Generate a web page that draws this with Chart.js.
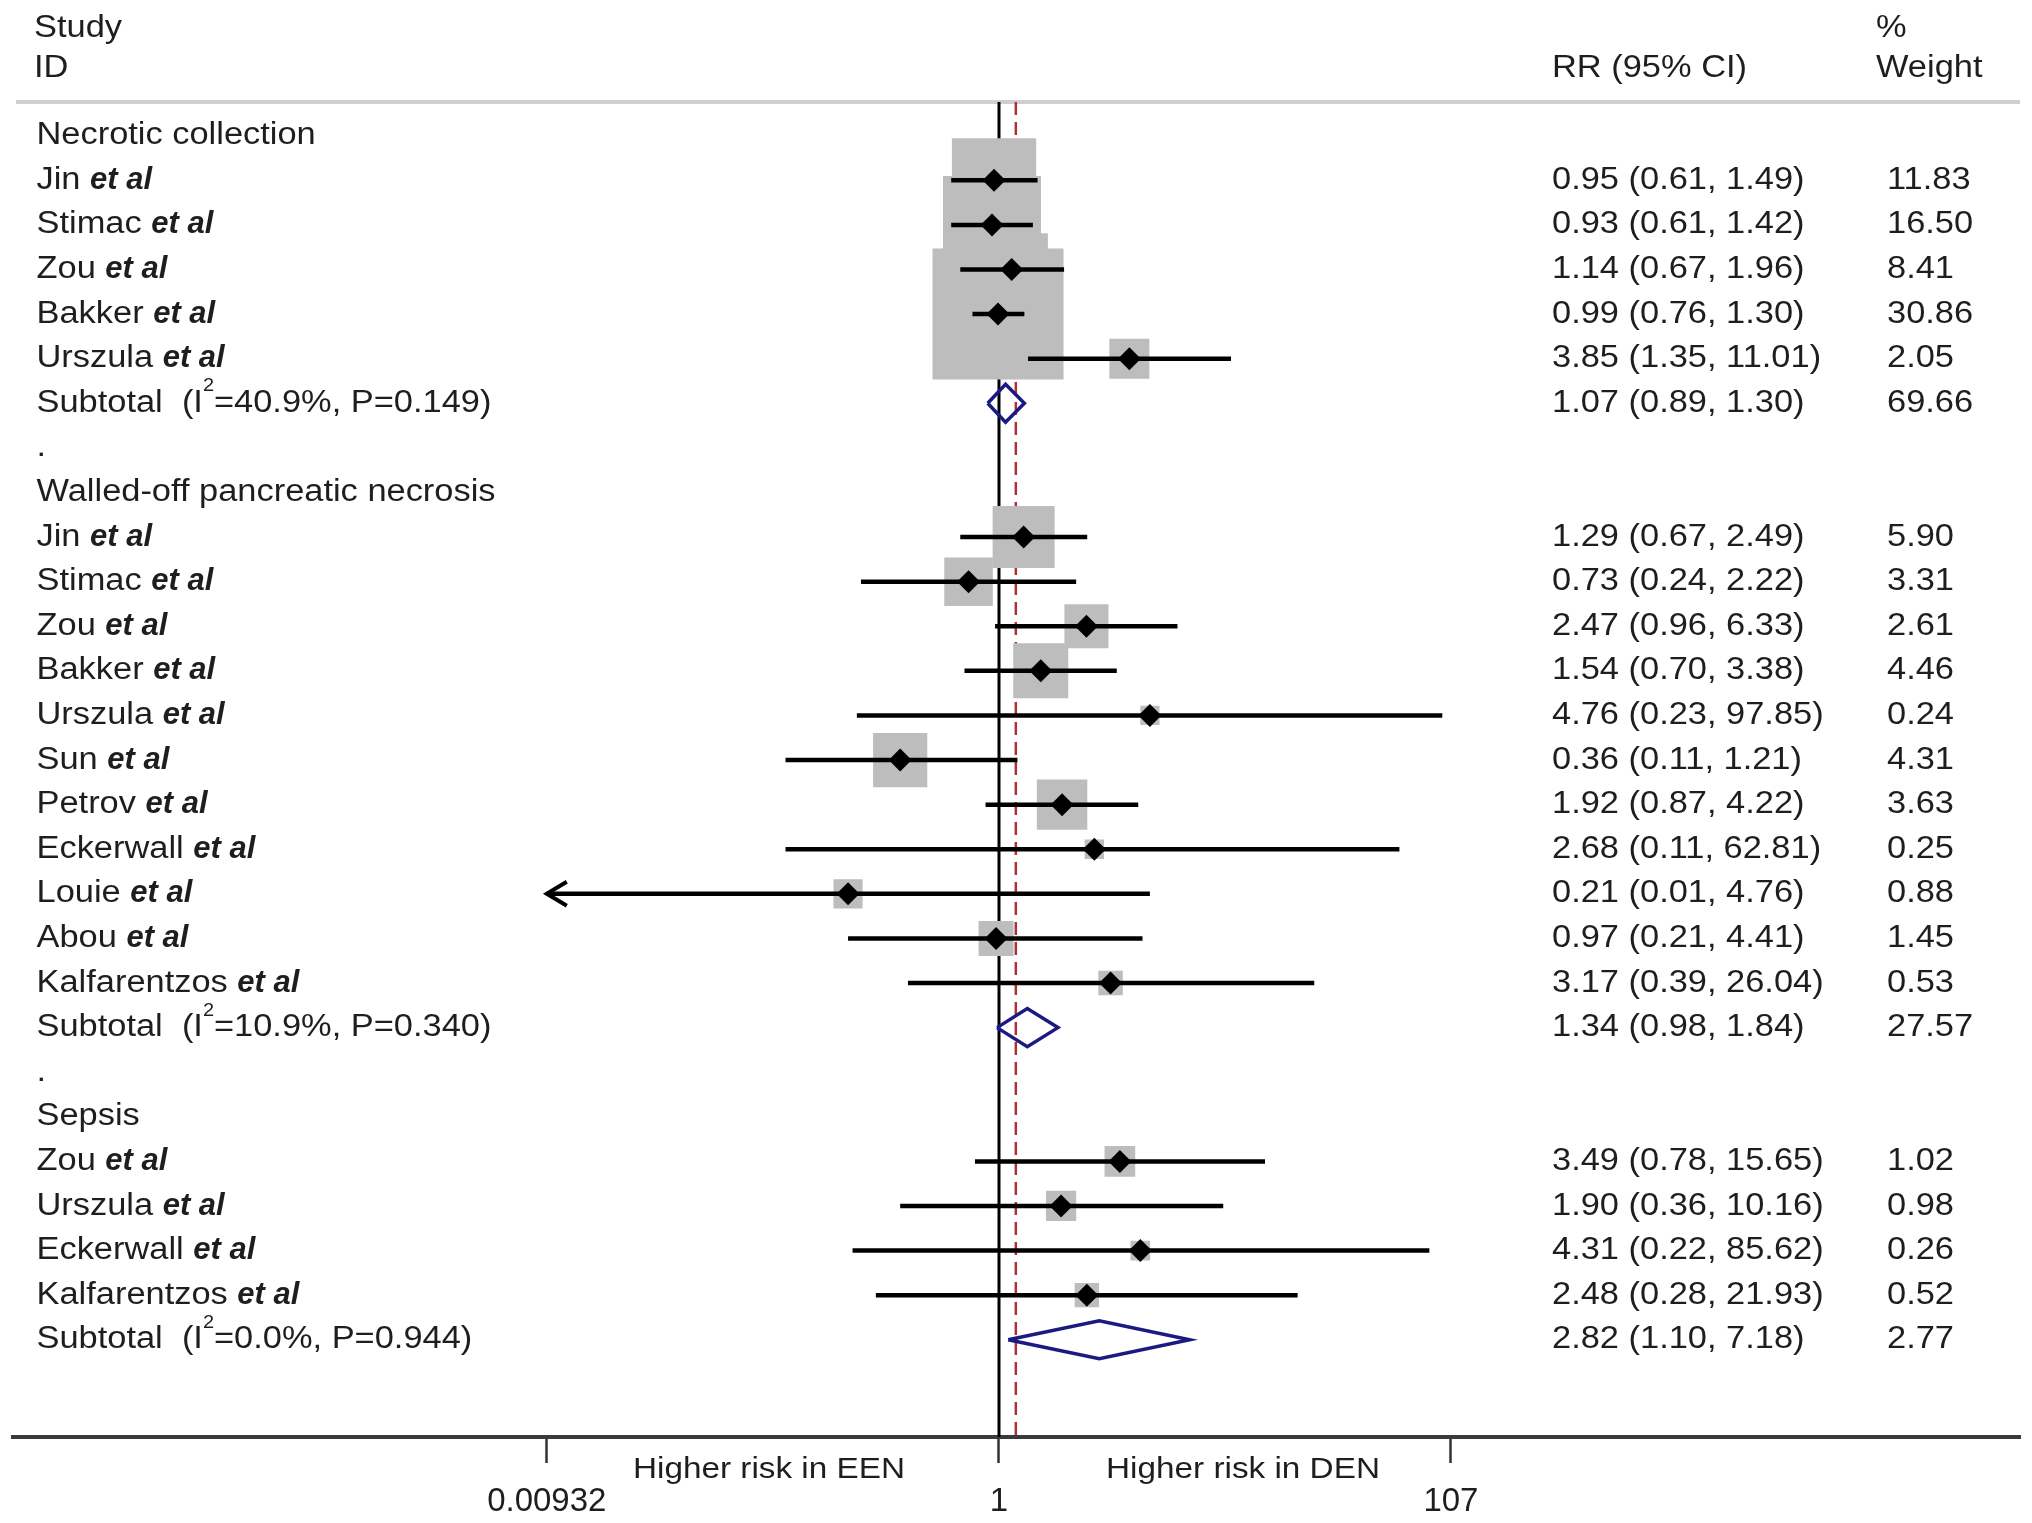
<!DOCTYPE html>
<html><head><meta charset="utf-8">
<script src="https://cdn.jsdelivr.net/npm/chart.js@4.4.1/dist/chart.umd.min.js"></script>
<style>html,body{margin:0;padding:0;background:#fff;}canvas{display:block;}</style>
</head><body>
<canvas id="c" width="2032" height="1523"></canvas>
<script>
// ---------------- data ----------------
const groupNames = ['Necrotic collection', 'Walled-off pancreatic necrosis', 'Sepsis'];
const studyNames = ['Jin','Stimac','Zou','Bakker','Urszula',
  'Jin','Stimac','Zou','Bakker','Urszula','Sun','Petrov','Eckerwall','Louie','Abou','Kalfarentzos',
  'Zou','Urszula','Eckerwall','Kalfarentzos'];
const studyGroup = [0,0,0,0,0, 1,1,1,1,1,1,1,1,1,1,1, 2,2,2,2];
const rr     = [0.95,0.93,1.14,0.99,3.85, 1.29,0.73,2.47,1.54,4.76,0.36,1.92,2.68,0.21,0.97,3.17, 3.49,1.90,4.31,2.48];
const ciLow  = [0.61,0.61,0.67,0.76,1.35, 0.67,0.24,0.96,0.70,0.23,0.11,0.87,0.11,0.01,0.21,0.39, 0.78,0.36,0.22,0.28];
const ciHigh = [1.49,1.42,1.96,1.30,11.01, 2.49,2.22,6.33,3.38,97.85,1.21,4.22,62.81,4.76,4.41,26.04, 15.65,10.16,85.62,21.93];
const weight = [11.83,16.50,8.41,30.86,2.05, 5.90,3.31,2.61,4.46,0.24,4.31,3.63,0.25,0.88,1.45,0.53, 1.02,0.98,0.26,0.52];
const lowBeyondAxis = [0,0,0,0,0, 0,0,0,0,0,0,0,0,1,0,0, 0,0,0,0];
const subRR     = [1.07, 1.34, 2.82];
const subLow    = [0.89, 0.98, 1.10];
const subHigh   = [1.30, 1.84, 7.18];
const subWeight = [69.66, 27.57, 2.77];
const subI2     = [40.9, 10.9, 0.0];
const subP      = [0.149, 0.340, 0.944];
const overallRR = 1.19;
const xTickValues = [0.00932, 1, 107];
const xTickLabels = ['0.00932', '1', '107'];
const sideLabels = ['Higher risk in EEN', 'Higher risk in DEN'];

// ---------------- layout / style constants ----------------
const X_MIN = Math.pow(10, -4.4275), X_MAX = Math.pow(10, 4.5847);
const Y_MIN = -0.756, Y_MAX = 29.18;
const SQ = 22.07, SQ_BORDER = 8.4, DIAMOND_HALF = 0.426;
const FONT = 'Liberation Sans, Arial, sans-serif';
const FS = 31, SX = 1.11;
const TEXT = '#1e1e1e', GREY = '#bdbdbd', NAVY = '#1a1a82', RED = '#b0303a';

// ---------------- rows ----------------
const studyRow = [], subRow = [], headRow = [], dotRow = [];
let r = 0;
groupNames.forEach((g, gi) => {
  headRow[gi] = r++;
  studyNames.forEach((n, k) => { if (studyGroup[k] === gi) studyRow[k] = r++; });
  subRow[gi] = r++;
  if (gi < groupNames.length - 1) dotRow.push(r++);
});

// ---------------- datasets ----------------
const datasets = [];
datasets.push({ data: [{x: 1, y: Y_MIN}, {x: 1, y: Y_MAX}], showLine: true, borderColor: '#000', borderWidth: 3, pointRadius: 0, order: 10 });
datasets.push({ data: [{x: overallRR, y: Y_MIN}, {x: overallRR, y: Y_MAX}], showLine: true, borderColor: RED, borderWidth: 2.5, borderDash: [13, 7], pointRadius: 0, order: 10 });
datasets.push({
  data: studyNames.map((n, k) => ({x: rr[k], y: studyRow[k]})),
  pointStyle: 'rect',
  pointRadius: c => SQ * Math.sqrt(weight[c.dataIndex]) / Math.SQRT2,
  pointBorderWidth: SQ_BORDER, backgroundColor: GREY, borderColor: GREY, order: 8
});
studyNames.forEach((n, k) => {
  datasets.push({
    data: [{x: lowBeyondAxis[k] ? xTickValues[0] : ciLow[k], y: studyRow[k]}, {x: ciHigh[k], y: studyRow[k]}],
    showLine: true, borderColor: '#000', borderWidth: 4.5, pointRadius: 0, order: 5
  });
});
datasets.push({
  data: studyNames.map((n, k) => ({x: rr[k], y: studyRow[k]})),
  pointStyle: 'rectRot', pointRadius: 11.5, pointBorderWidth: 0, backgroundColor: '#000', borderColor: '#000', order: 2
});
groupNames.forEach((g, gi) => {
  const y = subRow[gi];
  datasets.push({
    data: [{x: subLow[gi], y}, {x: subRR[gi], y: y - DIAMOND_HALF}, {x: subHigh[gi], y}, {x: subRR[gi], y: y + DIAMOND_HALF}, {x: subLow[gi], y}],
    showLine: true, borderColor: NAVY, borderWidth: 3.5, borderJoinStyle: 'miter', pointRadius: 0, fill: false, order: 3
  });
});

// ---------------- text helpers ----------------
function fontOf(s, size) {
  const fs = s.sup ? size * 0.58 : size;
  return (s.italic ? 'italic ' : '') + (s.bold ? 'bold ' : '') + fs + 'px ' + FONT;
}
function drawRich(ctx, x, y, segs, size, align) {
  ctx.save();
  ctx.textBaseline = 'middle';
  ctx.fillStyle = TEXT;
  const widths = segs.map(s => {
    ctx.font = fontOf(s, size);
    return ctx.measureText(s.t).width * (s.bold ? 1 : SX);
  });
  const total = widths.reduce((a, b) => a + b, 0);
  let cx = align === 'center' ? x - total / 2 : x;
  segs.forEach((s, i) => {
    ctx.font = fontOf(s, size);
    ctx.save();
    ctx.translate(cx, s.sup ? y - size * 0.55 : y);
    ctx.scale(s.bold ? 1 : SX, 1);
    ctx.fillText(s.t, 0, 0);
    ctx.restore();
    cx += widths[i];
  });
  ctx.restore();
}

const textPlugin = {
  id: 'forestText',
  beforeDatasetsDraw(chart) {
    const ctx = chart.ctx;
    ctx.save();
    ctx.strokeStyle = '#cfcfcf'; ctx.lineWidth = 4;
    ctx.beginPath(); ctx.moveTo(16, chart.chartArea.top); ctx.lineTo(2020, chart.chartArea.top); ctx.stroke();
    ctx.restore();
  },
  afterDraw(chart) {
    const ctx = chart.ctx, ys = chart.scales.y, xs = chart.scales.x;
    const LX = 36.5, RRX = 1552, WX = 1887;
    drawRich(ctx, 34, 28, [{t: 'Study'}], FS);
    drawRich(ctx, 34, 68, [{t: 'ID'}], FS);
    drawRich(ctx, RRX, 68, [{t: 'RR (95% CI)'}], FS);
    drawRich(ctx, 1876, 28, [{t: '%'}], FS);
    drawRich(ctx, 1876, 68, [{t: 'Weight'}], FS);
    groupNames.forEach((g, gi) => {
      drawRich(ctx, LX, ys.getPixelForValue(headRow[gi]), [{t: g}], FS);
      const py = ys.getPixelForValue(subRow[gi]);
      drawRich(ctx, LX, py, [{t: 'Subtotal  (I'}, {t: '2', sup: true}, {t: '=' + subI2[gi].toFixed(1) + '%, P=' + subP[gi].toFixed(3) + ')'}], FS);
      drawRich(ctx, RRX, py, [{t: subRR[gi].toFixed(2) + ' (' + subLow[gi].toFixed(2) + ', ' + subHigh[gi].toFixed(2) + ')'}], FS);
      drawRich(ctx, WX, py, [{t: subWeight[gi].toFixed(2)}], FS);
    });
    dotRow.forEach(d => drawRich(ctx, LX, ys.getPixelForValue(d), [{t: '.'}], FS));
    studyNames.forEach((n, k) => {
      const py = ys.getPixelForValue(studyRow[k]);
      drawRich(ctx, LX, py, [{t: n + ' '}, {t: 'et al', bold: true, italic: true}], FS);
      drawRich(ctx, RRX, py, [{t: rr[k].toFixed(2) + ' (' + ciLow[k].toFixed(2) + ', ' + ciHigh[k].toFixed(2) + ')'}], FS);
      drawRich(ctx, WX, py, [{t: weight[k].toFixed(2)}], FS);
      if (lowBeyondAxis[k]) {
        const ax = xs.getPixelForValue(xTickValues[0]);
        ctx.save();
        ctx.strokeStyle = '#000'; ctx.lineWidth = 4; ctx.lineJoin = 'miter';
        ctx.beginPath(); ctx.moveTo(ax + 20, py - 12); ctx.lineTo(ax, py); ctx.lineTo(ax + 20, py + 12); ctx.stroke();
        ctx.restore();
      }
    });
    const xOne = xs.getPixelForValue(1);
    drawRich(ctx, xOne - 230, 1470, [{t: sideLabels[0]}], 30, 'center');
    drawRich(ctx, xOne + 244, 1470, [{t: sideLabels[1]}], 30, 'center');
  }
};

new Chart(document.getElementById('c'), {
  type: 'scatter',
  data: { datasets },
  options: {
    responsive: false, animation: false, devicePixelRatio: 1,
    layout: { autoPadding: false, padding: { left: 13, right: 12, top: 102, bottom: 0 } },
    plugins: { legend: { display: false }, tooltip: { enabled: false } },
    scales: {
      x: {
        type: 'logarithmic', min: X_MIN, max: X_MAX, bounds: 'data',
        afterBuildTicks: s => { s.ticks = xTickValues.map(v => ({ value: v })); },
        afterFit: s => { s.height = 86; },
        ticks: { autoSkip: false, maxRotation: 0, padding: 19, color: TEXT,
          font: { family: FONT, size: 33 }, callback: (v, i) => xTickLabels[i] },
        grid: { drawOnChartArea: false, drawTicks: true, tickLength: 26, tickWidth: 2.5, tickColor: '#333' },
        border: { display: true, color: '#3a3a3a', width: 4 }
      },
      y: { type: 'linear', reverse: true, min: Y_MIN, max: Y_MAX, display: false }
    }
  },
  plugins: [textPlugin]
});
</script>
</body></html>
